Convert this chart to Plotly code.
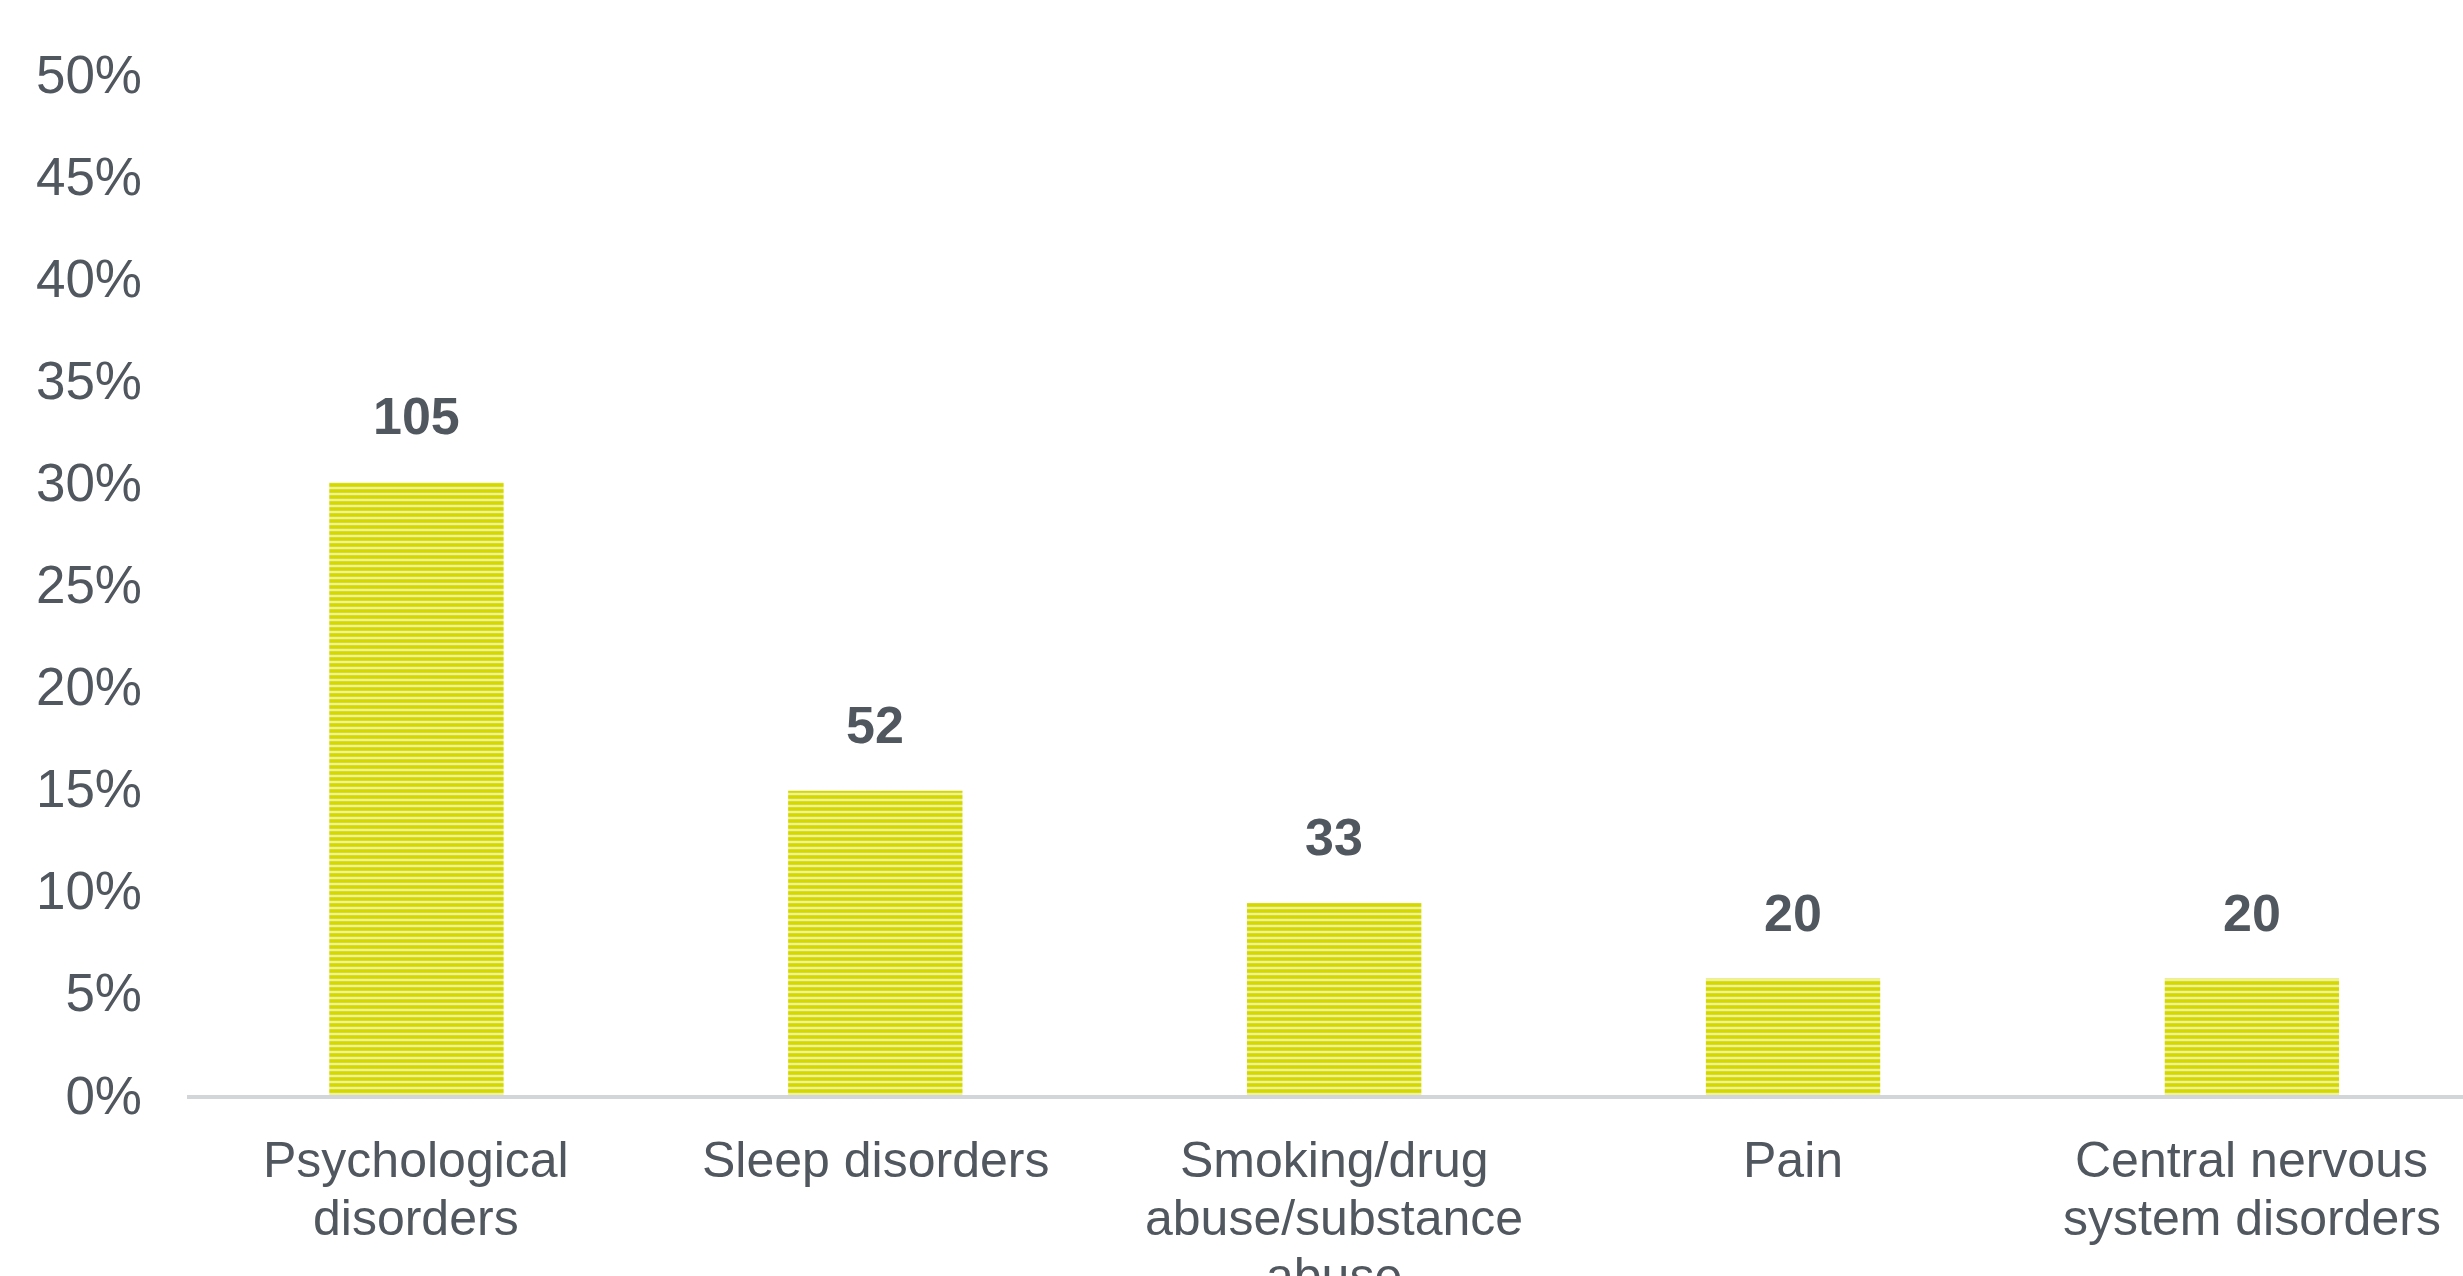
import plotly.graph_objects as go

categories = ["Psychological<br>disorders", "Sleep disorders",
              "Smoking/drug<br>abuse/substance<br>abuse", "Pain",
              "Central nervous<br>system disorders"]
percent_values = [30.0, 14.9, 9.4, 5.7, 5.7]
count_labels = ["105", "52", "33", "20", "20"]
y_tick_values = [0, 5, 10, 15, 20, 25, 30, 35, 40, 45, 50]
y_tick_labels = ["0%", "5%", "10%", "15%", "20%", "25%", "30%", "35%", "40%", "45%", "50%"]

TEXT = "#51575e"
FONT = "Liberation Sans, Arial, sans-serif"

fig = go.Figure()
fig.add_trace(go.Bar(
    x=list(range(len(categories))),
    y=percent_values,
    marker=dict(
        color="#e4e640",
        line=dict(width=0),
        pattern=dict(shape="-", fgcolor="#d4d800", bgcolor="#f0f29a",
                     size=6, solidity=0.6, fillmode="replace"),
    ),
    width=0.38,
    hoverinfo="skip",
))

# value labels above bars
for i, (v, t) in enumerate(zip(percent_values, count_labels)):
    fig.add_annotation(x=i, y=v, text="<b>%s</b>" % t, showarrow=False,
                       yanchor="bottom", yshift=35,
                       font=dict(family=FONT, size=52, color=TEXT))

# category labels (tight line spacing, one annotation per line)
for i, cat in enumerate(categories):
    for k, line in enumerate(cat.split("<br>")):
        fig.add_annotation(x=i, y=0, text=line, showarrow=False,
                           yanchor="middle", yshift=-65 - 58 * k,
                           font=dict(family=FONT, size=50, color=TEXT))

fig.update_layout(
    width=2463, height=1276,
    margin=dict(l=187, r=0, t=74, b=181),
    paper_bgcolor="white", plot_bgcolor="white",
    showlegend=False,
    font=dict(family=FONT, size=52, color=TEXT),
    xaxis=dict(
        range=[-0.5, 4.46], automargin=False,
        tickmode="array", tickvals=list(range(len(categories))),
        showticklabels=False,
        showgrid=False, zeroline=False,
        showline=True, linecolor="#d3d6d9", linewidth=4, ticks="",
    ),
    yaxis=dict(
        range=[0, 50], automargin=False,
        tickmode="array", tickvals=y_tick_values, ticktext=y_tick_labels,
        showgrid=False, zeroline=False, showline=False, ticks="",
        ticklabelstandoff=44, ticklabeloverflow="allow",
        tickfont=dict(family=FONT, size=53, color=TEXT),
    ),
)

fig.write_html("out.html")
